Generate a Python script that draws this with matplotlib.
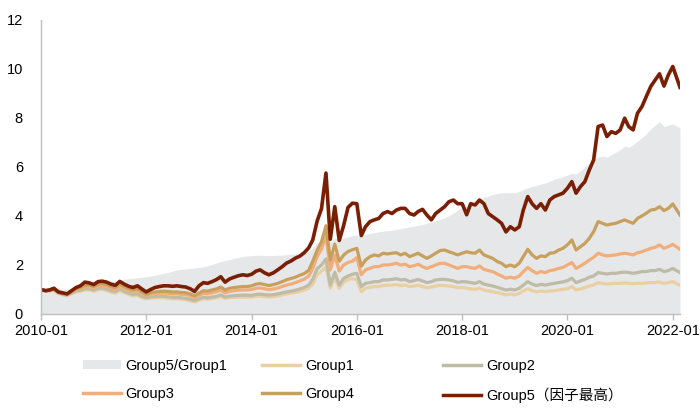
import pandas as pd
import matplotlib
matplotlib.use("Agg")
import matplotlib.pyplot as plt
import matplotlib.dates as mdates
from matplotlib.patches import Patch
from matplotlib.lines import Line2D

plt.rcParams["font.family"] = ["Liberation Sans", "Noto Sans CJK SC", "DejaVu Sans"]

# -----------------------------
# Data (monthly)
# -----------------------------
dates = list(pd.date_range("2010-01-01", periods=145, freq="MS")) + [pd.Timestamp("2022-02-20")]

ratio_51 = [
    1.00, 1.00, 1.02, 1.05, 1.03, 1.02, 1.02, 1.05, 1.10, 1.13, 1.17, 1.20,
    1.22, 1.25, 1.27, 1.30, 1.32, 1.35, 1.38, 1.42, 1.44, 1.46, 1.48, 1.50,
    1.52, 1.55, 1.58, 1.62, 1.66, 1.70, 1.75, 1.80, 1.82, 1.84, 1.86, 1.88,
    1.90, 1.93, 1.97, 2.02, 2.08, 2.14, 2.18, 2.22, 2.27, 2.31, 2.35, 2.37,
    2.38, 2.40, 2.40, 2.39, 2.38, 2.38, 2.40, 2.40, 2.42, 2.43, 2.45, 2.47,
    2.50, 2.55, 2.70, 2.90, 3.00, 3.05, 2.95, 3.10, 3.05, 3.10, 3.15, 3.20,
    3.22, 3.20, 3.25, 3.30, 3.32, 3.35, 3.38, 3.40, 3.42, 3.45, 3.48, 3.52,
    3.55, 3.58, 3.62, 3.66, 3.70, 3.75, 3.80, 3.86, 3.92, 4.02, 4.12, 4.24,
    4.35, 4.42, 4.50, 4.58, 4.65, 4.75, 4.82, 4.88, 4.92, 4.95, 4.95, 4.95,
    4.95, 5.00, 5.08, 5.15, 5.20, 5.25, 5.30, 5.35, 5.42, 5.50, 5.55, 5.60,
    5.67, 5.75, 5.70, 5.85, 6.00, 6.15, 6.30, 6.40, 6.45, 6.40, 6.50, 6.60,
    6.70, 6.85, 6.80, 6.90, 7.05, 7.20, 7.35, 7.55, 7.70, 7.85, 7.65, 7.70,
    7.75, 7.60,
]

group1 = [
    1.00, 0.93, 0.94, 0.96, 0.84, 0.78, 0.75, 0.83, 0.90, 0.93, 0.98, 0.98,
    0.93, 0.99, 1.00, 0.96, 0.89, 0.85, 0.95, 0.87, 0.80, 0.74, 0.76, 0.67,
    0.62, 0.65, 0.66, 0.66, 0.66, 0.64, 0.62, 0.62, 0.60, 0.58, 0.54, 0.49,
    0.56, 0.62, 0.60, 0.63, 0.66, 0.71, 0.63, 0.67, 0.68, 0.69, 0.69, 0.69,
    0.69, 0.72, 0.73, 0.71, 0.69, 0.71, 0.73, 0.78, 0.82, 0.85, 0.88, 0.92,
    0.98, 1.05, 1.22, 1.60, 1.75, 1.92, 1.05, 1.50, 1.05, 1.30, 1.40, 1.45,
    1.39, 0.91, 1.05, 1.09, 1.12, 1.12, 1.16, 1.17, 1.18, 1.20, 1.16, 1.18,
    1.12, 1.14, 1.17, 1.12, 1.07, 1.10, 1.14, 1.17, 1.16, 1.14, 1.12, 1.07,
    1.09, 1.05, 1.02, 1.01, 1.05, 0.98, 0.94, 0.91, 0.87, 0.83, 0.78, 0.82,
    0.78, 0.84, 0.94, 1.03, 0.95, 0.90, 0.94, 0.91, 0.94, 0.95, 0.98, 1.01,
    1.03, 1.12, 0.98, 1.02, 1.07, 1.14, 1.18, 1.28, 1.25, 1.22, 1.24, 1.25,
    1.25, 1.27, 1.25, 1.24, 1.25, 1.25, 1.27, 1.28, 1.28, 1.31, 1.25, 1.28,
    1.32, 1.17,
]

group2 = [
    1.00, 0.94, 0.95, 0.98, 0.86, 0.80, 0.77, 0.86, 0.94, 0.97, 1.03, 1.03,
    0.98, 1.05, 1.06, 1.02, 0.95, 0.91, 1.02, 0.93, 0.86, 0.80, 0.82, 0.72,
    0.67, 0.70, 0.71, 0.72, 0.72, 0.70, 0.68, 0.68, 0.66, 0.64, 0.60, 0.55,
    0.62, 0.68, 0.66, 0.69, 0.72, 0.78, 0.69, 0.73, 0.75, 0.76, 0.77, 0.77,
    0.76, 0.80, 0.81, 0.79, 0.77, 0.79, 0.82, 0.86, 0.90, 0.93, 0.97, 1.02,
    1.08, 1.18, 1.42, 1.85, 2.00, 2.25, 1.18, 1.70, 1.18, 1.45, 1.55, 1.62,
    1.66, 1.12, 1.25, 1.28, 1.32, 1.32, 1.39, 1.39, 1.41, 1.44, 1.39, 1.41,
    1.32, 1.36, 1.41, 1.35, 1.28, 1.32, 1.39, 1.41, 1.41, 1.39, 1.35, 1.29,
    1.32, 1.31, 1.28, 1.25, 1.32, 1.22, 1.18, 1.14, 1.09, 1.03, 0.98, 1.01,
    0.98, 1.05, 1.18, 1.32, 1.22, 1.16, 1.21, 1.18, 1.22, 1.25, 1.28, 1.31,
    1.36, 1.46, 1.28, 1.35, 1.41, 1.50, 1.55, 1.69, 1.66, 1.63, 1.66, 1.66,
    1.69, 1.71, 1.69, 1.66, 1.69, 1.73, 1.73, 1.77, 1.77, 1.82, 1.73, 1.77,
    1.86, 1.69,
]

group3 = [
    1.00, 0.95, 0.97, 1.01, 0.88, 0.83, 0.80, 0.90, 1.00, 1.04, 1.12, 1.12,
    1.07, 1.15, 1.17, 1.13, 1.05, 1.01, 1.14, 1.05, 0.97, 0.92, 0.95, 0.84,
    0.76, 0.82, 0.83, 0.85, 0.85, 0.84, 0.82, 0.82, 0.80, 0.79, 0.74, 0.66,
    0.76, 0.84, 0.82, 0.86, 0.90, 0.97, 0.86, 0.92, 0.95, 0.97, 0.98, 0.98,
    1.00, 1.05, 1.06, 1.03, 0.99, 1.02, 1.06, 1.12, 1.18, 1.22, 1.28, 1.35,
    1.42, 1.55, 1.85, 2.35, 2.65, 3.20, 1.80, 2.40, 1.75, 2.00, 2.10, 2.15,
    2.30, 1.60, 1.80, 1.86, 1.93, 1.93, 2.00, 2.00, 2.03, 2.07, 2.00, 2.03,
    1.93, 1.97, 2.03, 1.93, 1.86, 1.93, 2.00, 2.07, 2.07, 2.00, 1.93, 1.86,
    1.93, 1.93, 1.89, 1.86, 1.96, 1.82, 1.77, 1.73, 1.63, 1.55, 1.46, 1.50,
    1.46, 1.55, 1.73, 1.90, 1.77, 1.66, 1.73, 1.69, 1.77, 1.80, 1.86, 1.90,
    2.00, 2.10, 1.86, 1.96, 2.07, 2.20, 2.31, 2.48, 2.41, 2.37, 2.39, 2.41,
    2.45, 2.48, 2.45, 2.41, 2.50, 2.54, 2.61, 2.68, 2.72, 2.82, 2.68, 2.75,
    2.84, 2.64,
]

group4 = [
    1.00, 0.96, 0.98, 1.03, 0.90, 0.85, 0.82, 0.93, 1.03, 1.08, 1.18, 1.17,
    1.12, 1.22, 1.24, 1.20, 1.12, 1.08, 1.22, 1.12, 1.04, 0.98, 1.02, 0.90,
    0.80, 0.87, 0.90, 0.92, 0.93, 0.92, 0.90, 0.90, 0.88, 0.87, 0.82, 0.74,
    0.85, 0.95, 0.93, 0.98, 1.02, 1.10, 0.98, 1.05, 1.08, 1.10, 1.12, 1.12,
    1.15, 1.22, 1.24, 1.20, 1.16, 1.20, 1.25, 1.32, 1.40, 1.45, 1.50, 1.58,
    1.65, 1.78, 2.15, 2.60, 2.95, 3.60, 2.20, 2.85, 2.15, 2.40, 2.55, 2.62,
    2.68, 1.95, 2.20, 2.34, 2.41, 2.37, 2.48, 2.45, 2.48, 2.50, 2.41, 2.48,
    2.34, 2.41, 2.48, 2.37, 2.27, 2.37, 2.48, 2.59, 2.61, 2.54, 2.48, 2.41,
    2.48, 2.54, 2.50, 2.48, 2.61, 2.41, 2.34, 2.27, 2.14, 2.07, 1.93, 2.00,
    1.93, 2.07, 2.34, 2.64, 2.41, 2.27, 2.37, 2.34, 2.48, 2.50, 2.61, 2.68,
    2.82, 3.02, 2.61, 2.75, 2.88, 3.09, 3.36, 3.77, 3.70, 3.63, 3.67, 3.70,
    3.77, 3.84, 3.77, 3.70, 3.90, 4.00, 4.11, 4.24, 4.27, 4.38, 4.22, 4.31,
    4.49, 4.04,
]

group5 = [
    1.00, 0.95, 0.98, 1.05, 0.90, 0.86, 0.82, 0.95, 1.08, 1.15, 1.30, 1.27,
    1.20, 1.32, 1.34, 1.30, 1.22, 1.17, 1.33, 1.22, 1.13, 1.08, 1.15, 1.02,
    0.90, 1.00, 1.08, 1.12, 1.15, 1.15, 1.13, 1.15, 1.12, 1.10, 1.03, 0.92,
    1.15, 1.28, 1.25, 1.32, 1.40, 1.52, 1.30, 1.43, 1.50, 1.56, 1.60, 1.57,
    1.62, 1.75, 1.80, 1.68, 1.60, 1.68, 1.80, 1.93, 2.08, 2.16, 2.28, 2.36,
    2.50, 2.70, 3.02, 3.80, 4.30, 5.75, 3.05, 4.38, 3.00, 3.60, 4.35, 4.52,
    4.50, 3.20, 3.56, 3.77, 3.84, 3.90, 4.10, 4.18, 4.10, 4.24, 4.31, 4.31,
    4.10, 4.04, 4.18, 4.27, 4.04, 3.84, 4.10, 4.24, 4.38, 4.58, 4.65, 4.50,
    4.50, 4.05, 4.50, 4.45, 4.65, 4.50, 4.10, 3.97, 3.84, 3.70, 3.35, 3.56,
    3.43, 3.56, 4.24, 4.79, 4.50, 4.31, 4.50, 4.24, 4.65, 4.79, 4.86, 4.93,
    5.13, 5.40, 4.93, 5.20, 5.40, 5.88, 6.29, 7.65, 7.71, 7.24, 7.44, 7.37,
    7.51, 7.99, 7.65, 7.51, 8.19, 8.46, 8.87, 9.28, 9.55, 9.80, 9.30, 9.75,
    10.10, 9.25,
]

df = pd.DataFrame({
    "date": dates,
    "Group5/Group1": ratio_51,
    "Group1": group1,
    "Group2": group2,
    "Group3": group3,
    "Group4": group4,
    "Group5（因子最高）": group5,
})

# -----------------------------
# Styles
# -----------------------------
area_color = "#E6E7E8"
line_colors = {
    "Group1": "#EACFA3",
    "Group2": "#BEBBA6",
    "Group3": "#F1AE7B",
    "Group4": "#C8A05E",
    "Group5（因子最高）": "#7A1F04",
}
line_widths = {
    "Group1": 2.3,
    "Group2": 2.3,
    "Group3": 2.3,
    "Group4": 2.3,
    "Group5（因子最高）": 2.6,
}

# -----------------------------
# Plot
# -----------------------------
fig = plt.figure(figsize=(7, 4.15), dpi=100)
ax = fig.add_axes([0.0586, 0.2434, 0.9128, 0.7086])

ax.fill_between(df["date"], 0, df["Group5/Group1"], color=area_color, linewidth=0)
for name, color in line_colors.items():
    ax.plot(df["date"], df[name], color=color, linewidth=line_widths[name])

ax.set_ylim(0, 12)
ax.set_yticks(range(0, 13, 2))
ax.set_xlim(df["date"].iloc[0], df["date"].iloc[-1])
ax.xaxis.set_major_locator(mdates.YearLocator(2, month=1, day=1))
ax.xaxis.set_major_formatter(mdates.DateFormatter("%Y-%m"))

for side in ["top", "right"]:
    ax.spines[side].set_visible(False)
for side in ["left", "bottom"]:
    ax.spines[side].set_color("#BFBFBF")
    ax.spines[side].set_linewidth(1.0)

ax.tick_params(axis="y", length=0, pad=13, labelsize=10.5, colors="black")
ax.tick_params(axis="x", length=4, width=1, color="#BFBFBF", pad=3, labelsize=10.5)

# -----------------------------
# Legend (3 columns, 2 rows)
# -----------------------------
h_area = Patch(facecolor=area_color, edgecolor="none")
h = {n: Line2D([], [], color=c, linewidth=2.5) for n, c in line_colors.items()}

columns = [
    ([h_area, h["Group3"]], ["Group5/Group1", "Group3"], 0.118),
    ([h["Group1"], h["Group4"]], ["Group1", "Group4"], 0.374),
    ([h["Group2"], h["Group5（因子最高）"]], ["Group2", "Group5（因子最高）"], 0.633),
]
for handles, labels, x0 in columns:
    fig.legend(handles, labels, loc="upper left", bbox_to_anchor=(x0, 0.136),
               frameon=False, fontsize=10.5, handlelength=2.6, handleheight=0.6,
               handletextpad=0.35, labelspacing=1.0, borderaxespad=0,
               borderpad=0)

plt.savefig("out.png", dpi=100)
